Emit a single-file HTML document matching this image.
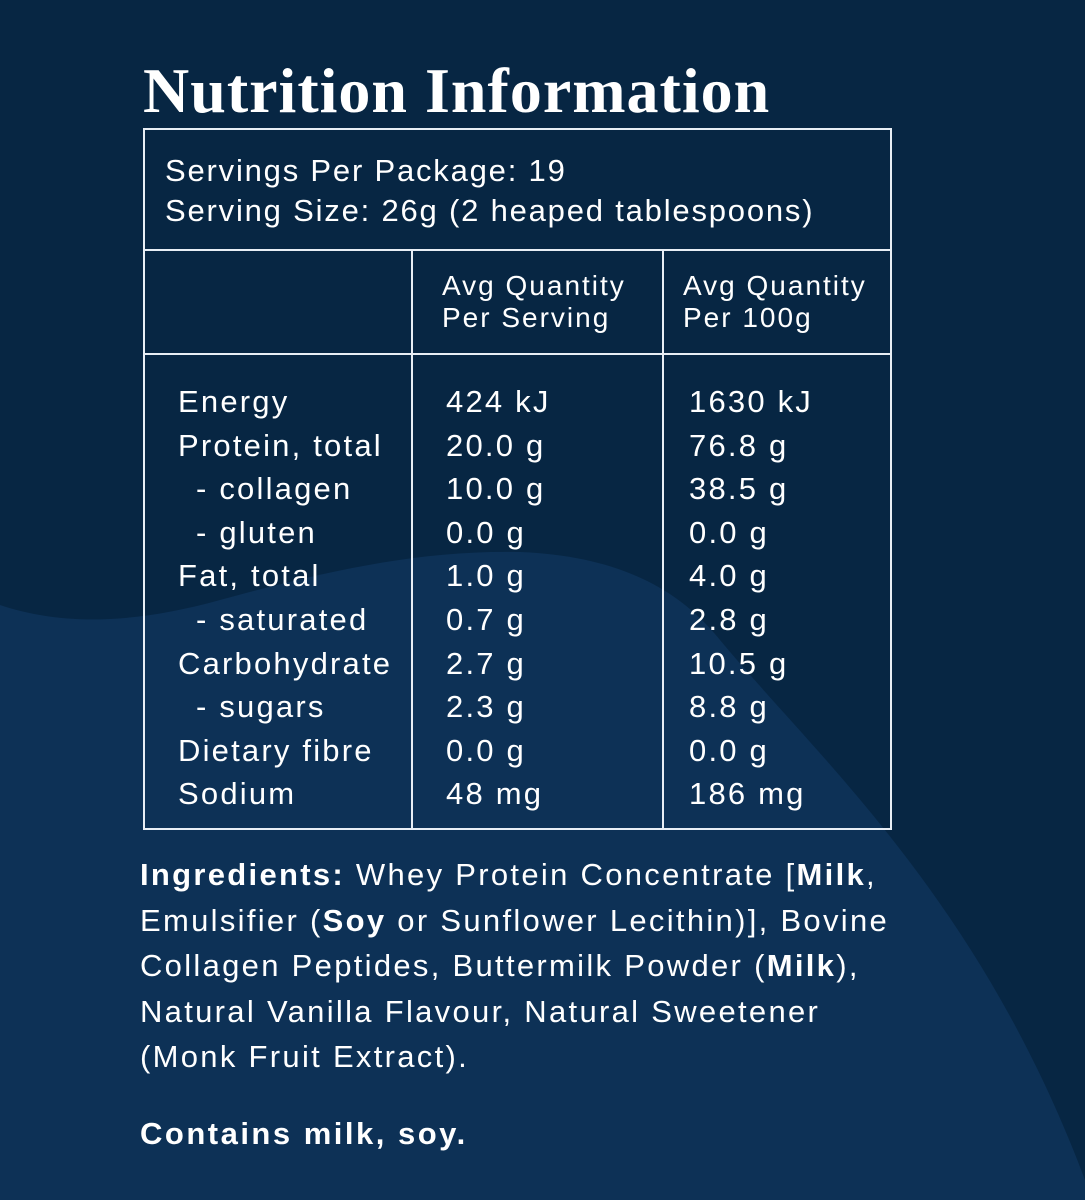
<!DOCTYPE html>
<html><head><meta charset="utf-8"><style>
body{margin:0;width:1085px;height:1200px;overflow:hidden;background:#072643;font-family:"Liberation Sans",sans-serif;color:#fff;position:relative}
svg.bg{position:absolute;left:0;top:0}
.t{position:absolute;white-space:nowrap}
.ln{position:absolute;background:#e8eef5}
.s{padding-left:18px}
</style></head><body>
<svg class="bg" width="1085" height="1200"><path d="M0 605 C60 625 130 625 220 600 C330 570 420 550 520 552 C620 556 680 590 720 640 C820 760 980 900 1085 1180 L1085 1200 L0 1200Z" fill="#0d3156"/></svg>
<div class="t" style="left:143px;top:54px;font-family:'Liberation Serif',serif;font-weight:bold;font-size:64px;letter-spacing:1px">Nutrition Information</div>
<div class="ln" style="left:143px;top:128px;width:749px;height:2px"></div>
<div class="ln" style="left:143px;top:249px;width:749px;height:2px"></div>
<div class="ln" style="left:143px;top:353px;width:749px;height:2px"></div>
<div class="ln" style="left:143px;top:828px;width:749px;height:2px"></div>
<div class="ln" style="left:143px;top:128px;width:2px;height:702px"></div>
<div class="ln" style="left:890px;top:128px;width:2px;height:702px"></div>
<div class="ln" style="left:411px;top:250px;width:2px;height:580px"></div>
<div class="ln" style="left:662px;top:250px;width:2px;height:580px"></div>
<div class="t" style="left:165px;top:151px;font-size:31px;line-height:40px;letter-spacing:1.8px">Servings Per Package: 19<br>Serving Size: 26g (2 heaped tablespoons)</div>
<div class="t" style="left:442px;top:270px;font-size:28px;line-height:32px;letter-spacing:2px">Avg Quantity<br>Per Serving</div>
<div class="t" style="left:683px;top:270px;font-size:28px;line-height:32px;letter-spacing:2px">Avg Quantity<br>Per 100g</div>
<div class="t" style="left:178px;top:380px;font-size:31px;line-height:43.6px;letter-spacing:2.2px">Energy<br>Protein, total<br><span class="s">- collagen</span><br><span class="s">- gluten</span><br>Fat, total<br><span class="s">- saturated</span><br>Carbohydrate<br><span class="s">- sugars</span><br>Dietary fibre<br>Sodium</div>
<div class="t" style="left:446px;top:380px;font-size:31px;line-height:43.6px;letter-spacing:2.2px">424 kJ<br>20.0 g<br>10.0 g<br>0.0 g<br>1.0 g<br>0.7 g<br>2.7 g<br>2.3 g<br>0.0 g<br>48 mg</div>
<div class="t" style="left:689px;top:380px;font-size:31px;line-height:43.6px;letter-spacing:2.2px">1630 kJ<br>76.8 g<br>38.5 g<br>0.0 g<br>4.0 g<br>2.8 g<br>10.5 g<br>8.8 g<br>0.0 g<br>186 mg</div>
<div class="t" style="left:140px;top:852px;font-size:31px;line-height:45.5px;letter-spacing:2.3px"><b>Ingredients:</b> Whey Protein Concentrate [<b>Milk</b>,<br>Emulsifier (<b>Soy</b> or Sunflower Lecithin)], Bovine<br>Collagen Peptides, Buttermilk Powder (<b>Milk</b>),<br>Natural Vanilla Flavour, Natural Sweetener<br>(Monk Fruit Extract).</div>
<div class="t" style="left:140px;top:1116px;font-size:31px;font-weight:bold;letter-spacing:2.5px">Contains milk, soy.</div>
</body></html>
